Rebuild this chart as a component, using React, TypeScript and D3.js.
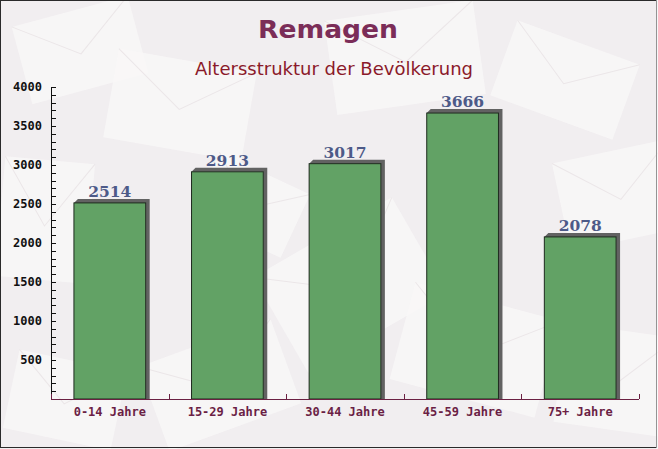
import React from "react";
import * as d3 from "d3";

const categories = ["0-14 Jahre", "15-29 Jahre", "30-44 Jahre", "45-59 Jahre", "75+ Jahre"];
const values = [2514, 2913, 3017, 3666, 2078];
const yTicks = [500, 1000, 1500, 2000, 2500, 3000, 3500, 4000];
const title = "Remagen";
const subtitle = "Altersstruktur der Bevölkerung";

const W = 658;
const H = 449;
const left = 51;
const right = 639;
const top = 87;
const bottom = 399;

export default function App() {
  const x = d3.scaleBand<string>().domain(categories).range([left, right]).paddingInner(0.39).paddingOuter(0.195);
  const y = d3.scaleLinear().domain([0, 4000]).range([bottom, top]);
  const minor = d3.range(0, 4001, 100);
  const bounds = d3.range(0, categories.length + 1).map((i) => left + ((right - left) / categories.length) * i);
  const sdx = 4;
  const sdy = -4;

  const envelopes = [
    { x: 20, y: 10, w: 120, h: 80, r: -15 },
    { x: 110, y: 60, w: 140, h: 90, r: 10 },
    { x: 330, y: 10, w: 150, h: 95, r: -8 },
    { x: 500, y: 40, w: 130, h: 80, r: 20 },
    { x: 560, y: 150, w: 120, h: 90, r: -12 },
    { x: 0, y: 160, w: 90, h: 120, r: 5 },
    { x: 270, y: 230, w: 160, h: 110, r: -30 },
    { x: 400, y: 300, w: 150, h: 100, r: 15 },
    { x: 150, y: 340, w: 140, h: 90, r: -20 },
    { x: 560, y: 330, w: 110, h: 100, r: 8 },
    { x: 10, y: 360, w: 110, h: 80, r: 12 },
    { x: 200, y: 170, w: 100, h: 70, r: 25 },
  ];

  return (
    <svg
      width={W}
      height={H}
      style={{ position: "fixed", left: 0, top: 0, display: "block" }}
      xmlns="http://www.w3.org/2000/svg"
    >
      <rect x={0} y={0} width={W} height={H} fill="#f1eef0" />
      {envelopes.map((e, i) => (
        <g key={i} transform={`rotate(${e.r} ${e.x + e.w / 2} ${e.y + e.h / 2})`}>
          <rect x={e.x} y={e.y} width={e.w} height={e.h} fill="#f9f7f7" opacity={0.8} />
          <path
            d={`M${e.x},${e.y} L${e.x + e.w / 2},${e.y + e.h * 0.55} L${e.x + e.w},${e.y}`}
            fill="none"
            stroke="#ebe6e8"
            strokeWidth={1}
          />
        </g>
      ))}
      <rect x={0.5} y={0.5} width={W - 2} height={H - 2} fill="none" stroke="#2a2a2a" strokeWidth={1} />
      <line x1={W - 1} y1={0} x2={W - 1} y2={H} stroke="#ffffff" strokeWidth={1} />

      <text
        x={328}
        y={38}
        textAnchor="middle"
        fontFamily="'DejaVu Sans', sans-serif"
        fontWeight="bold"
        fontSize={24}
        fill="#7b2d58"
        textLength={140}
        lengthAdjust="spacingAndGlyphs"
      >
        {title}
      </text>
      <text
        x={334}
        y={75}
        textAnchor="middle"
        fontFamily="'DejaVu Sans', sans-serif"
        fontSize={17.5}
        fill="#8b1a2a"
        textLength={278}
        lengthAdjust="spacingAndGlyphs"
      >
        {subtitle}
      </text>

      {/* bars */}
      {categories.map((c, i) => {
        const bx = x(c)!;
        const bw = x.bandwidth();
        const by = y(values[i]);
        const shadow = `M${bx},${by} L${bx + sdx},${by + sdy} L${bx + bw + sdx},${by + sdy} L${bx + bw + sdx},${bottom} L${bx + bw},${bottom} L${bx + bw},${by} Z`;
        return (
          <g key={c}>
            <path d={shadow} fill="#626262" />
            <rect x={bx} y={by} width={bw} height={bottom - by} fill="#62a265" stroke="#1e2a1e" strokeWidth={1} />
            <text
              x={bx + bw / 2}
              y={by - 6}
              textAnchor="middle"
              fontFamily="'DejaVu Serif', serif"
              fontWeight="bold"
              fontSize={15.5}
              fill="#4d5a88"
            >
              {values[i]}
            </text>
          </g>
        );
      })}

      {/* y axis */}
      <line x1={left + 0.5} y1={top} x2={left + 0.5} y2={bottom} stroke="#111" strokeWidth={1} />
      {minor.map((v) => (
        <line key={v} x1={left} y1={Math.round(y(v)) + 0.5} x2={left + 5} y2={Math.round(y(v)) + 0.5} stroke="#111" strokeWidth={1} />
      ))}
      {yTicks.map((v) => (
        <text
          key={v}
          x={42}
          y={y(v)}
          dy="0.35em"
          textAnchor="end"
          fontFamily="'DejaVu Sans Mono', monospace"
          fontWeight="bold"
          fontSize={12}
          fill="#111"
        >
          {v}
        </text>
      ))}

      {/* x axis */}
      <line x1={left} y1={bottom + 0.5} x2={right} y2={bottom + 0.5} stroke="#6b2042" strokeWidth={1.2} />
      {bounds.map((b, i) => (
        <line key={i} x1={Math.round(b) + 0.5} y1={bottom} x2={Math.round(b) + 0.5} y2={bottom - 5} stroke="#6b2042" strokeWidth={1} />
      ))}
      {categories.map((c) => (
        <text
          key={c}
          x={x(c)! + x.bandwidth() / 2}
          y={416}
          textAnchor="middle"
          fontFamily="'DejaVu Sans Mono', monospace"
          fontWeight="bold"
          fontSize={12}
          fill="#6b1f45"
        >
          {c}
        </text>
      ))}
    </svg>
  );
}
